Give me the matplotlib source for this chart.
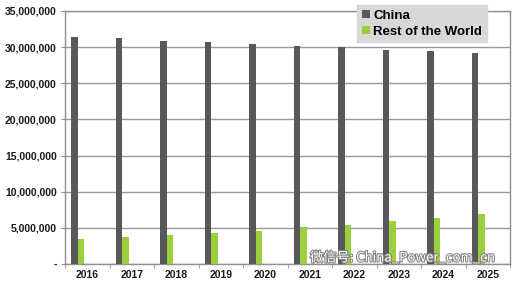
import numpy as np
import matplotlib.pyplot as plt
import matplotlib.patheffects as pe
from matplotlib.ticker import FuncFormatter

years = ['2016', '2017', '2018', '2019', '2020', '2021', '2022', '2023', '2024', '2025']
china = [31.4, 31.2, 30.9, 30.7, 30.4, 30.2, 30.0, 29.65, 29.4, 29.2]
rest_of_world = [3.45, 3.7, 3.97, 4.29, 4.6, 5.07, 5.44, 5.9, 6.36, 6.87]
china = [v * 1e6 for v in china]
rest_of_world = [v * 1e6 for v in rest_of_world]

plt.rcParams['font.family'] = ['Liberation Sans', 'DejaVu Sans']

fig = plt.figure(figsize=(5.13, 2.82), dpi=100)
ax = fig.add_axes([65 / 513, 1 - 264 / 282, 445 / 513, 253 / 282])

x = np.arange(len(years))
w = 0.146
ax.bar(x - 0.36, china, width=w, align='edge', color='#58585a', label='China', zorder=3)
ax.bar(x - 0.36 + w, rest_of_world, width=w, align='edge', color='#9bcf3c', label='Rest of the World', zorder=3)

ax.set_xlim(-0.5, len(years) - 0.5)
ax.set_ylim(0, 35e6)
ax.set_yticks(np.arange(0, 35e6 + 1, 5e6))
ax.yaxis.set_major_formatter(FuncFormatter(lambda v, p: '-' if v == 0 else f'{int(v):,}'))
ax.set_xticks(x)
ax.set_xticklabels(years)
ax.set_xticks(np.arange(-0.5, len(years), 1), minor=True)
ax.tick_params(axis='x', which='major', length=0, pad=4, labelsize=7.5)
ax.tick_params(axis='x', which='minor', length=3, color='#909090')
ax.tick_params(axis='y', length=3, color='#909090', pad=3, labelsize=7.5)
for lab in ax.get_xticklabels() + ax.get_yticklabels():
    lab.set_fontweight('bold')
    lab.set_color('#1a1a1a')

ax.grid(axis='y', color='#9a9a9a', linewidth=1, zorder=0)
for s in ax.spines.values():
    s.set_color('#909090')
    s.set_linewidth(1)

leg = ax.legend(loc='upper left', bbox_to_anchor=(292 / 445, 1 + 6 / 253), frameon=True,
                fancybox=False, handlelength=0.6, handleheight=0.6, handletextpad=0.3,
                borderpad=0.35, borderaxespad=0, labelspacing=0.3,
                prop={'weight': 'bold', 'size': 9.5})
leg.get_frame().set_facecolor('#d8d8d8')
leg.get_frame().set_edgecolor('#d8d8d8')
leg.get_frame().set_alpha(1)
leg.set_zorder(5)

fig.text(310 / 513, 1 - 258 / 282, '微信号: China_Power_com_cn', fontsize=9.5, color='white',
         family=['Noto Sans CJK SC', 'DejaVu Sans'], va='center', ha='left', zorder=6,
         path_effects=[pe.withStroke(linewidth=1.5, foreground='#808080')])

fig.savefig('out.png', dpi=100)
